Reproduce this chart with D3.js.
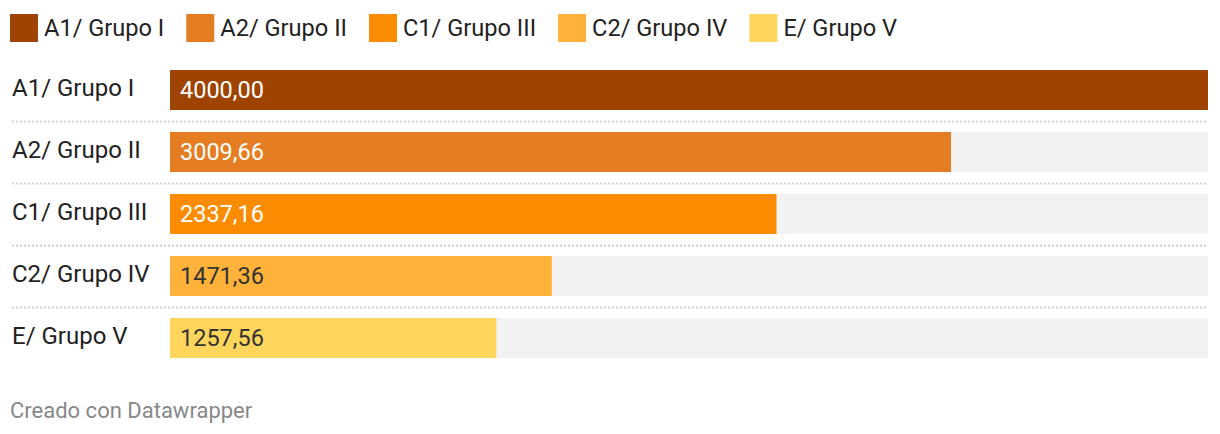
<!DOCTYPE html>
<html>
<head>
<meta charset="utf-8">
<script src="https://cdn.jsdelivr.net/npm/d3@7"></script>
<style>
  body { margin: 0; background: #fff; }
  svg { display: block; font-family: Roboto, sans-serif; }
</style>
</head>
<body>
<div id="paper"></div>
<script>
// chart data
const categories = ['A1/ Grupo I', 'A2/ Grupo II', 'C1/ Grupo III', 'C2/ Grupo IV', 'E/ Grupo V']
const values = [4000.00, 3009.66, 2337.16, 1471.36, 1257.56]
const colors = ['#9f4400', '#e57e22', '#fb8c00', '#ffb23a', '#ffd65b']
const darkLabel = [false, false, false, true, true]

const W = 1220, H = 434

const svg = d3.select('#paper')
    .append('svg')
    .attr('id', 'canvas')
    .attr('width', W)
    .attr('height', H)

// legend, items placed one after another
let lx = 10
categories.forEach((c, i) => {
    const g = svg.append('g').attr('transform', `translate(${lx},14)`)
    g.append('rect').attr('width', 28).attr('height', 28).attr('fill', colors[i])
    const t = g.append('text')
        .attr('x', 34).attr('y', 22)
        .attr('font-size', '23.6px')
        .style('fill', '#222')
        .text(c)
    lx += 34 + t.node().getComputedTextLength() + 22
})

// scales: band 40, step 62
const x = d3.scaleLinear().domain([0, 4000]).range([170, 1208])
const y = d3.scaleBand().domain(categories).range([70, 70 + 62 * 5 - 22]).paddingInner(22 / 62).paddingOuter(0)

const rows = categories.map((c, i) => ({ c, v: values[i], col: colors[i], dark: darkLabel[i] }))

// background tracks
svg.selectAll('.track')
    .data(rows)
    .join('rect')
    .attr('class', 'track')
    .attr('x', x(0))
    .attr('y', d => y(d.c))
    .attr('width', x(4000) - x(0))
    .attr('height', y.bandwidth())
    .attr('fill', '#f2f2f2')

// bars
svg.selectAll('.bar')
    .data(rows)
    .join('rect')
    .attr('class', 'bar')
    .attr('x', x(0))
    .attr('y', d => y(d.c))
    .attr('width', d => x(d.v) - x(0))
    .attr('height', y.bandwidth())
    .attr('fill', d => d.col)

// dotted separators between rows
svg.selectAll('.sep')
    .data(rows.slice(0, -1))
    .join('line')
    .attr('class', 'sep')
    .attr('x1', 12).attr('x2', 1208)
    .attr('y1', d => y(d.c) + y.bandwidth() + 11.5)
    .attr('y2', d => y(d.c) + y.bandwidth() + 11.5)
    .style('stroke', '#cfcfcf')
    .style('stroke-width', 2)
    .style('stroke-dasharray', '2,2')

// row labels
svg.selectAll('.lab')
    .data(rows)
    .join('text')
    .attr('class', 'lab')
    .attr('x', 12)
    .attr('y', d => y(d.c) + y.bandwidth() / 2)
    .attr('dominant-baseline', 'middle')
    .attr('font-size', '24px')
    .style('fill', '#222')
    .text(d => d.c)

// value labels
const fmt = v => v.toFixed(2).replace('.', ',')
svg.selectAll('.val')
    .data(rows)
    .join('text')
    .attr('class', 'val')
    .attr('x', x(0) + 10)
    .attr('y', d => y(d.c) + y.bandwidth() / 2 + 1.5)
    .attr('dominant-baseline', 'middle')
    .attr('font-size', '23.5px')
    .style('fill', d => d.dark ? '#333' : '#fff')
    .text(d => fmt(d.v))

// footer
svg.append('text')
    .attr('x', 10).attr('y', 418)
    .attr('font-size', '22px')
    .style('fill', '#888')
    .text('Creado con Datawrapper')
</script>
</body>
</html>
